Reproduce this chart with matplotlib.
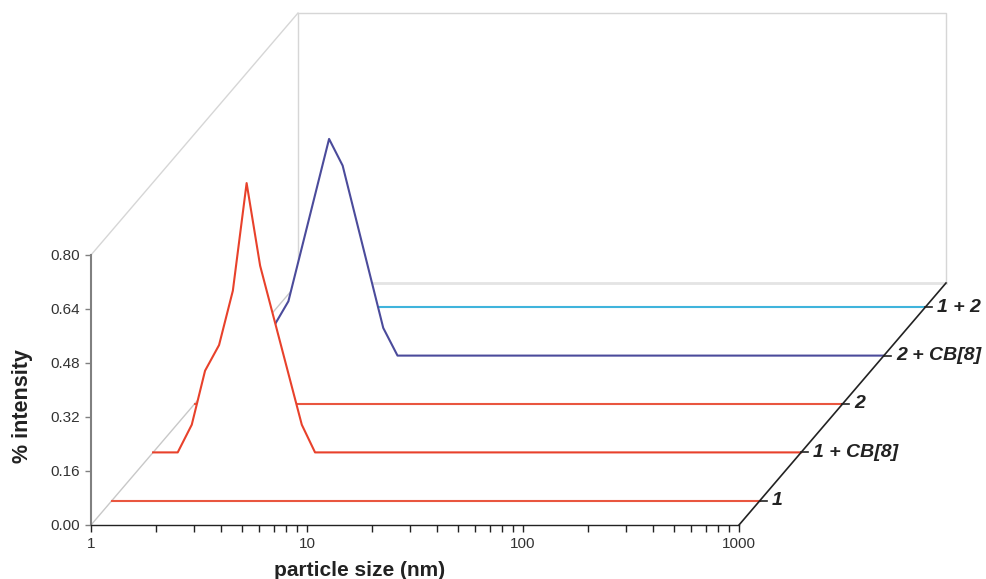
import matplotlib
matplotlib.use("Agg")
import matplotlib.pyplot as plt
from matplotlib.transforms import Affine2D, IdentityTransform
from matplotlib.lines import Line2D
from matplotlib.ticker import FixedLocator, FixedFormatter, FormatStrFormatter

plt.rcParams['font.family'] = ['Liberation Sans', 'DejaVu Sans']

# DLS size distributions, front to back
series_names = ["1", "1 + CB[8]", "2", "2 + CB[8]", "1 + 2"]
series_colors = ["#e9563f", "#e8412b", "#e9563f", "#4b4b9b", "#3fb4dc"]

size_1 = [1, 1000]
int_1 = [0, 0]

size_1cb8 = [1.0, 1.30, 1.51, 1.74, 2.02, 2.34, 2.71, 3.13, 4.88, 5.62, 1000]
int_1cb8 = [0, 0, 0.082, 0.242, 0.318, 0.479, 0.798, 0.553, 0.082, 0, 0]

size_2 = [1, 1000]
int_2 = [0, 0]

size_2cb8 = [1.0, 1.30, 1.53, 1.75, 2.70, 3.12, 4.81, 5.60, 1000]
int_2cb8 = [0, 0, 0.097, 0.161, 0.642, 0.563, 0.082, 0, 0]

size_12 = [1.15, 1000]
int_12 = [0, 0]

sizes = [size_1, size_1cb8, size_2, size_2cb8, size_12]
intensities = [int_1, int_1cb8, int_2, int_2cb8, int_12]

y_ticks = [0.00, 0.16, 0.32, 0.48, 0.64, 0.80]
x_ticks = [1, 10, 100, 1000]
x_ticklabels = ["1", "10", "100", "1000"]

# pixel shift of one depth step (one series)
DX, DY = 41.4, 48.4
N_DEPTH = 5

W, H = 987, 579
fig = plt.figure(figsize=(W / 100, H / 100), dpi=100)
ax = fig.add_axes([91 / W, (H - 525) / H, 648 / W, 270 / H])
ax.set_xscale('log')
ax.set_xlim(1, 1000)
ax.set_ylim(0, 0.8)
ax.set_autoscale_on(False)
ax.patch.set_visible(False)


def shifted(d):
    return ax.transData + Affine2D().translate(d * DX, d * DY)


def proj(x, y, d):
    px, py = ax.transData.transform((x, y))
    return px + d * DX, py + d * DY


def pix_line(p0, p1, **kw):
    ln = Line2D([p0[0], p1[0]], [p0[1], p1[1]], transform=IdentityTransform(),
                clip_on=False, **kw)
    ax.add_line(ln)
    return ln


wall = "#d6d6d6"
# back wall
ax.plot([1, 1, 1000, 1000], [0, 0.8, 0.8, 0], color=wall, lw=1.0,
        transform=shifted(N_DEPTH), clip_on=False, zorder=1)
ax.plot([1, 1000], [0, 0], color="#e4e4e4", lw=2.0,
        transform=shifted(N_DEPTH), clip_on=False, zorder=1)
# side edges
pix_line(proj(1, 0.8, 0), proj(1, 0.8, N_DEPTH), color=wall, lw=1.0, zorder=1)
pix_line(proj(1, 0, 0), proj(1, 0, N_DEPTH), color="#c8c8c8", lw=1.0, zorder=1)

# series, drawn from the back so nearer curves hide the ones behind
for i in reversed(range(len(series_names))):
    d = i + 0.5
    t = shifted(d)
    xs, ys = sizes[i], intensities[i]
    z = 10 + (len(series_names) - i) * 2
    ax.fill(xs + xs[::-1], ys + [0] * len(xs), color="white", lw=0,
            transform=t, clip_on=False, zorder=z)
    ax.plot(xs, ys, color=series_colors[i], lw=1.5, transform=t,
            clip_on=False, zorder=z + 1)

# depth axis with sample labels
pix_line(proj(1000, 0, 0), proj(1000, 0, N_DEPTH), color="#222222", lw=1.2, zorder=30)
for i, name in enumerate(series_names):
    d = i + 0.5
    p = proj(1000, 0, d)
    pix_line(p, (p[0] + 7, p[1]), color="#222222", lw=1.2, zorder=30)
    ax.annotate(name, xy=(1000, 0), xycoords=shifted(d), xytext=(12, 0),
                textcoords='offset pixels', ha='left', va='center',
                fontsize=14, fontweight='bold', fontstyle='italic',
                color="#222222", annotation_clip=False, zorder=30)

# front axes
for s in ("top", "right"):
    ax.spines[s].set_visible(False)
ax.spines["left"].set_color("#808080")
ax.spines["left"].set_linewidth(1.5)
ax.spines["bottom"].set_color("#222222")
ax.spines["bottom"].set_linewidth(1.0)
ax.spines["left"].set_zorder(40)
ax.spines["bottom"].set_zorder(40)

ax.set_yticks(y_ticks)
ax.yaxis.set_major_formatter(FormatStrFormatter('%.2f'))
ax.xaxis.set_major_locator(FixedLocator(x_ticks))
ax.xaxis.set_major_formatter(FixedFormatter(x_ticklabels))
ax.xaxis.set_minor_locator(FixedLocator(
    [m * 10 ** e for e in range(3) for m in range(2, 10)]))
ax.tick_params(axis='y', length=4, width=1.0, color="#808080", pad=4,
               labelsize=11, labelcolor="#333333")
ax.tick_params(axis='x', which='both', length=5, width=1.0, color="#222222",
               pad=4, labelsize=11, labelcolor="#333333")
ax.tick_params(axis='x', which='minor', labelbottom=False)

ax.set_xlabel("particle size (nm)", fontsize=15, fontweight='bold', color="#222222")
ax.xaxis.set_label_coords(0.415, -0.133)
ax.set_ylabel("% intensity", fontsize=15.5, fontweight='bold', color="#222222")
ax.yaxis.set_label_coords(-0.089, 0.44)

fig.savefig("out.png", dpi=100, facecolor="white")
